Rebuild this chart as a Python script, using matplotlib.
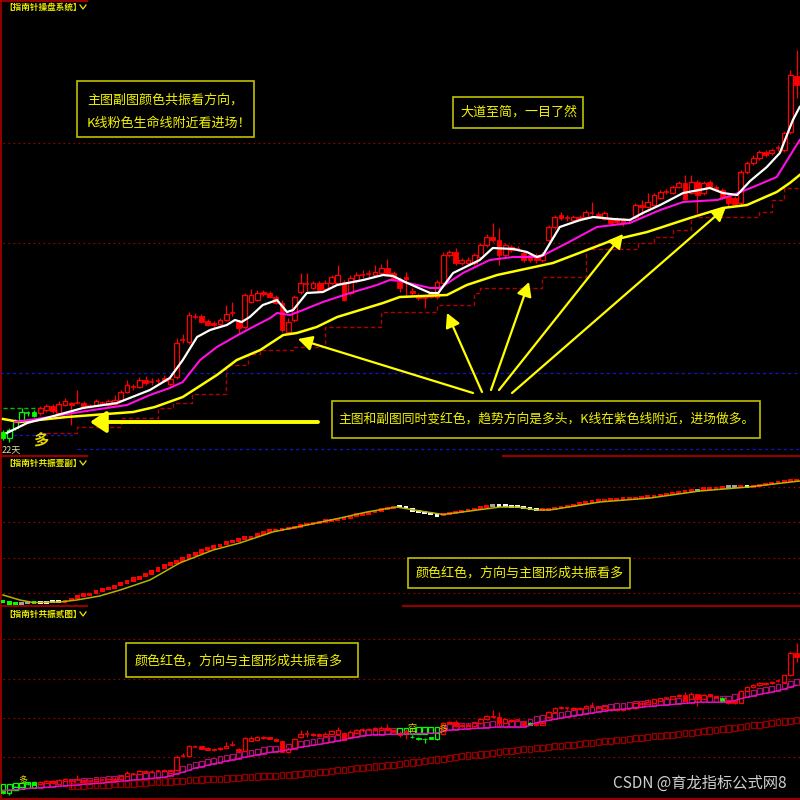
import matplotlib
matplotlib.use("Agg")
import matplotlib.pyplot as plt
from matplotlib.patches import Rectangle, FancyArrowPatch

plt.rcParams["font.family"] = ["Noto Sans CJK SC", "DejaVu Sans"]

# ---------------- data ----------------
k_open = [2.8, 2.2, 3.2, 4.0, 4.7, 4.8, 4.7, 5.0, 5.4, 4.7,
          5.5, 5.7, 5.7, 5.7, 5.4, 5.5, 5.7, 5.5, 5.6, 6.0,
          6.8, 7.3, 7.3, 8.0, 7.8, 7.9, 8.2, 7.6, 8.3, 12.0,
          11.8, 14.3, 14.4, 13.9, 13.7, 13.6, 14.0, 14.7, 13.8, 13.3,
          15.8, 16.0, 16.8, 16.7, 16.3, 15.7, 12.8, 14.0, 16.8, 17.6,
          17.2, 17.7, 17.1, 17.7, 17.7, 17.8, 16.7, 17.9, 18.5, 18.6,
          18.5, 18.7, 19.2, 18.7, 17.8, 18.3, 16.9, 16.5, 16.3, 16.7,
          16.3, 17.7, 20.5, 20.8, 19.7, 19.7, 19.7, 20.3, 21.5, 22.3,
          22.0, 20.5, 21.0, 21.1, 20.7, 20.5, 20.5, 20.0, 22.0, 23.3,
          24.5, 24.2, 24.0, 24.3, 24.3, 24.7, 24.6, 24.1, 24.1, 24.1,
          24.0, 24.0, 24.3, 25.5, 25.3, 25.5, 26.2, 26.8, 26.7, 27.3,
          27.7, 26.7, 27.8, 26.7, 27.8, 27.3, 27.0, 26.3, 26.2, 25.7,
          28.8, 29.7, 30.2, 30.8, 30.7, 31.2, 31.0, 32.8, 38.4]
k_close = [2.2, 3.0, 3.8, 4.8, 4.7, 4.4, 5.2, 5.4, 4.9, 5.6,
           5.9, 5.5, 5.7, 5.3, 5.4, 5.9, 5.7, 5.9, 6.0, 6.8,
           7.5, 7.3, 8.0, 7.7, 7.8, 7.9, 7.9, 8.1, 11.7, 12.0,
           14.5, 14.3, 13.8, 13.5, 13.5, 14.0, 14.6, 14.7, 13.2, 16.5,
           16.5, 16.7, 16.6, 16.3, 15.7, 13.0, 13.8, 16.3, 17.7, 17.6,
           17.7, 17.0, 17.7, 18.3, 18.5, 16.0, 18.2, 18.5, 18.5, 18.6,
           18.8, 19.2, 18.5, 18.1, 17.2, 18.1, 16.7, 16.2, 16.2, 16.3,
           17.8, 20.5, 20.8, 19.7, 20.0, 20.0, 20.5, 21.5, 22.3, 22.0,
           20.5, 21.5, 21.3, 21.1, 20.0, 20.0, 20.0, 20.5, 23.3, 24.3,
           24.2, 24.2, 24.3, 24.1, 24.8, 24.7, 24.4, 24.7, 23.7, 23.8,
           23.7, 24.0, 25.5, 25.3, 25.8, 26.5, 26.8, 26.8, 27.3, 27.7,
           26.1, 27.8, 26.5, 27.7, 27.3, 27.0, 26.2, 25.7, 25.6, 28.8,
           29.7, 30.2, 30.8, 30.5, 31.0, 31.2, 32.7, 38.5, 37.5]
k_high = [3.0, 3.2, 4.1, 5.2, 4.9, 5.0, 5.4, 5.6, 5.6, 5.9,
          6.2, 5.8, 7.0, 5.9, 5.6, 6.1, 5.9, 6.1, 6.5, 7.0,
          8.0, 7.6, 8.3, 8.4, 8.2, 8.2, 8.5, 8.4, 12.2, 12.6,
          14.8, 14.7, 14.6, 14.1, 13.9, 14.2, 15.5, 15.8, 14.0, 16.7,
          17.1, 17.0, 17.0, 16.9, 16.5, 16.0, 14.2, 16.5, 18.7, 18.7,
          17.9, 17.9, 18.0, 18.5, 19.5, 18.0, 18.5, 18.8, 19.0, 19.0,
          19.5, 19.6, 20.1, 18.9, 18.3, 18.8, 17.2, 16.7, 16.5, 16.9,
          18.0, 20.8, 21.0, 21.2, 20.2, 20.3, 20.7, 21.7, 22.6, 23.7,
          23.2, 21.7, 21.5, 21.4, 20.9, 20.7, 20.7, 20.8, 23.5, 24.5,
          24.8, 24.5, 24.5, 24.5, 25.0, 25.8, 24.8, 24.9, 24.3, 24.3,
          24.2, 24.2, 25.7, 26.0, 26.7, 26.7, 27.0, 27.1, 27.5, 27.9,
          28.5, 28.5, 28.0, 27.9, 28.0, 27.5, 27.2, 26.5, 26.4, 29.0,
          29.9, 30.5, 31.0, 31.0, 31.2, 31.5, 32.9, 39.0, 41.0]
k_low = [2.0, 1.8, 3.0, 3.9, 4.4, 4.3, 4.5, 4.8, 4.7, 4.6,
         5.4, 3.5, 5.6, 5.1, 5.2, 5.4, 5.5, 5.4, 5.5, 5.9,
         6.7, 7.0, 7.2, 7.5, 7.5, 7.7, 7.8, 7.4, 8.1, 11.7,
         11.6, 14.1, 13.7, 13.4, 13.3, 13.5, 13.9, 14.4, 12.7, 13.1,
         15.7, 15.9, 16.4, 16.2, 15.6, 12.8, 12.6, 13.8, 16.6, 16.9,
         17.1, 16.9, 17.0, 17.5, 17.6, 15.9, 16.5, 17.7, 18.2, 18.3,
         18.4, 18.6, 18.4, 18.0, 16.8, 16.3, 16.5, 16.0, 15.2, 16.2,
         16.1, 17.5, 20.3, 19.5, 19.5, 19.6, 19.5, 20.2, 21.3, 21.8,
         19.5, 20.3, 20.8, 20.9, 19.8, 19.8, 19.7, 19.8, 21.8, 23.1,
         24.0, 23.9, 23.8, 23.9, 24.2, 24.5, 24.2, 24.0, 23.6, 23.6,
         23.4, 23.7, 24.1, 24.5, 25.2, 25.4, 26.1, 26.6, 26.6, 27.2,
         26.0, 26.6, 24.7, 26.5, 27.2, 26.9, 26.1, 25.3, 25.4, 25.5,
         28.6, 29.5, 30.0, 30.3, 30.5, 30.9, 30.8, 32.6, 36.2]
# candle colour state in main chart: g = bearish (green), r = bullish (red)
main_color_runs = [("g", 6), ("r", 123)]

# moving-average style lines of the main chart (candle index, price)
white_x = [0.6, 1.6, 3.9, 7.6, 12.9, 18.4, 23.7, 26.9, 29.0, 31.3, 33.4, 36.1, 37.4,
           38.5, 39.8, 41.9, 44.2, 45.8, 46.8, 49.0, 51.6, 53.9, 58.1, 61.3, 62.9,
           65.2, 68.9, 70.2, 72.6, 76.9, 79.0, 82.3, 84.5, 86.1, 87.1, 89.8, 93.1,
           95.2, 98.4, 101.1, 103.2, 106.0, 109.7, 114.0, 116.1, 118.4, 120.5, 123.2,
           125.3, 127.4, 128.5]
white_v = [2.7, 3.0, 3.7, 4.3, 5.2, 5.7, 7.0, 8.2, 10.0, 12.3, 13.0, 13.5, 14.0,
           13.8, 14.3, 15.5, 16.0, 14.8, 15.0, 16.7, 16.8, 17.5, 18.0, 18.5, 18.4,
           17.7, 16.7, 16.7, 18.7, 20.0, 21.2, 21.1, 20.8, 20.3, 20.5, 23.3, 24.0,
           24.3, 24.1, 24.0, 24.7, 25.5, 26.7, 27.2, 26.7, 26.5, 27.9, 29.3,
           30.7, 34.0, 35.3]
pink_x = [1.9, 6.5, 12.4, 20.0, 23.7, 26.9, 29.0, 31.8, 34.5, 37.9, 40.3, 43.1, 44.2,
          46.3, 48.4, 51.6, 56.0, 60.3, 62.4, 64.0, 68.9, 70.5, 74.2, 78.5, 82.3,
          86.6, 91.0, 95.8, 101.1, 106.0, 109.7, 115.2, 117.7, 121.0, 124.8, 126.9, 128.5]
pink_v = [3.8, 4.2, 4.8, 5.5, 6.5, 7.2, 7.8, 10.0, 11.3, 12.5, 13.3, 14.2, 14.7,
          14.5, 15.0, 15.8, 16.7, 17.5, 18.0, 17.9, 17.2, 17.2, 18.7, 20.0, 20.3,
          20.3, 21.7, 23.3, 23.7, 25.0, 25.8, 26.0, 26.5, 27.3, 28.3, 30.4, 32.0]
yellow_x = [0, 2.7, 10.3, 21.0, 24.5, 29.0, 34.5, 37.7, 41.5, 45.2, 47.4, 50.6, 53.9,
            57.6, 61.3, 64.0, 71.6, 74.8, 79.7, 88.7, 94.2, 98.4, 103.9, 110.8, 116.1,
            120.0, 124.8, 126.9, 128.5]
yellow_v = [4.1, 3.8, 4.3, 4.8, 5.3, 6.3, 8.5, 10.0, 11.0, 12.5, 12.7, 13.3, 14.3,
            15.0, 15.7, 16.3, 16.5, 17.5, 18.5, 19.7, 21.0, 22.0, 22.8, 24.2, 25.2,
            25.5, 26.8, 27.7, 28.5]
# stepped support line (start index of each level, level)
step_start = [7, 12, 19, 25, 27.5, 30.5, 36, 39.5, 41.5, 47, 52, 61, 70, 76, 77,
              87, 94, 102.5, 105, 108, 111, 122, 124, 126, 128.5]
step_level = [2.7, 3.3, 4.2, 5.2, 5.7, 6.6, 9.5, 10.6, 11.0, 11.3, 13.3, 14.8, 15.5,
              16.7, 17.2, 18.3, 21.1, 21.7, 22.3, 23.0, 24.3, 24.8, 26.0, 27.2, 27.2]
blue_level_hi = 8.7
blue_level_lo = [2.5, 1.1]
green_level = 5.2

# sub chart 1 (共振壹副)
sub1_val = [5, 3, 2.5, 3, 4, 4, 4, 4, 4.5, 5,
            5, 6.5, 9, 11, 12, 14, 16, 17.5, 19.5, 22,
            24, 26.5, 28.5, 31, 33.5, 36.5, 39.5, 42, 44, 47,
            49.5, 52, 55, 57, 59, 60.5, 63, 64.5, 66.5, 68,
            69, 71, 73, 75, 76, 77, 78, 78.5, 80, 81.5,
            82.5, 83.5, 85, 86, 87, 88, 89, 91, 92, 93,
            94.5, 96, 97, 98.5, 99, 98, 96, 94.5, 93.5, 92.5,
            91, 92, 92.5, 93.5, 94.5, 95.5, 96.5, 98, 99.5, 100,
            100, 100, 99, 99, 98, 97, 96, 96, 96, 97,
            98.5, 99.5, 100.5, 102, 103.5, 104, 105, 105.5, 106, 106.5,
            107, 107, 107, 108, 109, 109.5, 110.5, 111.5, 112.5, 113,
            114, 115, 115.5, 117, 117, 117.5, 118.5, 119, 119, 119,
            119, 119.5, 120.5, 121.5, 122, 123, 124, 125, 125.5]
sub1_color_runs = [("g", 3), ("s", 2), ("g", 1), ("w", 3), ("y", 1), ("r", 54),
                   ("w", 7), ("r", 8), ("s", 1), ("w", 7), ("r", 25), ("s", 1),
                   ("r", 4), ("s", 2), ("r", 1), ("y", 1), ("r", 8)]
sub1_sig_x = [0, 2.7, 4.8, 9.2, 11.9, 15.6, 18.9, 23.7, 28.5, 33.9, 38.2, 43.5, 49.0,
              54.4, 58.7, 63.5, 67.3, 71.0, 75.3, 80.2, 82.9, 86.1, 88.2, 96.3, 104.4,
              112.4, 120.2, 128.5]
sub1_sig_v = [11, 6, 3.5, 4, 6, 10, 16, 26, 43, 56, 63, 74, 81, 88, 94, 99, 95, 91.5,
              95, 99, 99, 96, 96, 104, 108, 115, 119, 125]

# sub chart 2 (共振贰图): same K lines, box line and lower box line
sub2_box = [3.0, 3.1, 3.2, 3.3, 3.5, 3.6, 3.7, 3.8, 3.9, 4.1,
            4.2, 4.3, 4.4, 4.6, 4.7, 4.8, 4.9, 5.1, 5.2, 5.4,
            5.5, 5.7, 5.8, 6.0, 6.1, 6.3, 6.4, 6.8, 7.3, 7.7,
            8.2, 8.8, 9.1, 9.5, 9.9, 10.2, 10.6, 10.9, 11.2, 11.6,
            11.9, 12.2, 12.5, 12.8, 13.0, 13.2, 13.5, 13.8, 14.2, 14.4,
            14.7, 14.9, 15.2, 15.5, 15.8, 16.1, 16.5, 16.8, 17.1, 17.3,
            17.4, 17.4, 17.5, 17.5, 17.6, 17.6, 17.6, 17.7, 17.7, 17.8,
            17.8, 18.4, 18.6, 18.7, 18.8, 18.9, 19.0, 19.1, 19.2, 19.3,
            19.4, 19.4, 19.4, 19.4, 19.4, 19.8, 20.5, 20.8, 21.1, 21.4,
            21.7, 22.0, 22.3, 22.5, 22.8, 23.0, 23.3, 23.5, 23.7, 23.9,
            24.0, 24.2, 24.4, 24.5, 24.7, 24.8, 25.0, 25.1, 25.2, 25.4,
            25.5, 25.6, 25.8, 25.8, 25.8, 25.8, 25.8, 25.8, 26.2, 26.7,
            27.1, 27.4, 27.8, 28.1, 28.4, 28.8, 29.2, 29.7, 30.2]
sub2_box_color_runs = [("g", 6), ("m", 58), ("g", 7), ("m", 58)]
sub2_k_color_runs = [("g", 6), ("r", 60), ("g", 5), ("r", 14), ("g", 1), ("r", 30),
                     ("g", 1), ("r", 12)]
sub2_low_start = 11
sub2_low = [4.1, 4.2, 4.2, 4.3, 4.4, 4.5, 4.5, 4.6, 4.7, 4.8,
            4.8, 4.9, 5.0, 5.1, 5.2, 5.3, 5.3, 5.4, 5.5, 5.6,
            5.7, 5.8, 5.9, 5.9, 6.0, 6.1, 6.2, 6.3, 6.4, 6.5,
            6.6, 6.7, 6.7, 6.8, 6.9, 7.0, 7.1, 7.2, 7.4, 7.5,
            7.7, 7.8, 8.0, 8.2, 8.3, 8.5, 8.7, 8.8, 9.0, 9.2,
            9.3, 9.5, 9.6, 9.8, 10.0, 10.2, 10.4, 10.6, 10.8, 11.0,
            11.2, 11.4, 11.6, 11.8, 12.0, 12.1, 12.3, 12.5, 12.7, 12.9,
            13.1, 13.2, 13.4, 13.6, 13.7, 13.9, 14.0, 14.2, 14.4, 14.5,
            14.7, 14.8, 15.0, 15.2, 15.3, 15.5, 15.7, 15.8, 16.0, 16.1,
            16.3, 16.5, 16.6, 16.8, 17.0, 17.1, 17.3, 17.4, 17.6, 17.8,
            17.9, 18.1, 18.3, 18.5, 18.6, 18.8, 19.0, 19.2, 19.4, 19.6,
            19.8, 20.0, 20.2, 20.4, 20.6, 20.8, 21.0, 21.2]

titles = ["【指南针操盘系统】", "【指南针共振壹副】", "【指南针共振贰图】"]
note_main1 = ["主图副图颜色共振看方向，", "K线粉色生命线附近看进场！"]
note_main2 = "大道至简，一目了然"
note_main3 = "主图和副图同时变红色，趋势方向是多头，K线在紫色线附近，进场做多。"
note_sub = "颜色红色，方向与主图形成共振看多"
watermark = "CSDN @育龙指标公式网8"


def expand(runs):
    out = []
    for c, n in runs:
        out += [c] * n
    return out


PAL = {"r": "#ff0000", "g": "#00ff00", "w": "#ffffff", "s": "#a0a0a0",
       "y": "#ffffb0", "m": "#a8106a"}

N = len(k_close)
XL = (-0.484, 128.55)

fig = plt.figure(figsize=(8, 8), dpi=100, facecolor="black")

# background layer: grid, borders
bg = fig.add_axes([0, 0, 1, 1])
bg.set_xlim(0, 800); bg.set_ylim(800, 0); bg.axis("off")
for yy in [143, 243, 487, 522, 558, 593, 639, 679, 718, 757]:
    bg.plot([3, 800], [yy, yy], color="#a00000", lw=0.8, ls=(0, (1.5, 3)))
for xs, yy in [([0, 87], 1), ([0, 87], 456), ([503, 800], 456),
               ([0, 87], 606), ([403, 800], 606), ([0, 800], 799)]:
    bg.plot(xs, [yy, yy], color="#900000", lw=1.6)
bg.plot([1.2, 1.2], [0, 800], color="#900000", lw=1.4)


def panel(top, bottom):
    ax = fig.add_axes([0, 1 - bottom / 800, 1, (bottom - top) / 800])
    ax.set_xlim(*XL)
    ax.axis("off")
    return ax


def candles(ax, cols, w=0.76):
    for i in range(N):
        o, c, h, l = k_open[i], k_close[i], k_high[i], k_low[i]
        col = PAL[cols[i]]
        top, bot = max(o, c), min(o, c)
        ax.vlines(i, top, h, color=col, lw=0.9, zorder=3)
        ax.vlines(i, l, bot, color=col, lw=0.9, zorder=3)
        if c > o:
            ax.add_patch(Rectangle((i - w / 2, bot), w, top - bot, facecolor="black",
                                   edgecolor=col, lw=0.9, zorder=3))
        elif c < o:
            ax.add_patch(Rectangle((i - w / 2, bot), w, top - bot, facecolor=col,
                                   edgecolor=col, lw=0.6, zorder=3))
        else:
            ax.hlines(c, i - w / 2, i + w / 2, color=col, lw=1.1, zorder=3)


# ---- main chart ----
ax1 = panel(0, 456)
ax1.set_ylim(0.4, 46.0)
ax1.hlines(blue_level_hi, XL[0], XL[1], colors="#1414c8", lw=0.9, linestyles=(0, (2.5, 2.5)))
ax1.hlines(blue_level_lo[0], 1.6, 11.6, colors="#1414c8", lw=0.9, linestyles=(0, (2.5, 2.5)))
ax1.hlines(blue_level_lo[1], 12, XL[1], colors="#1414c8", lw=0.9, linestyles=(0, (2.5, 2.5)))
ax1.hlines(green_level, 0, 6, colors="#00c000", lw=1.0, linestyles=(0, (3, 2)))
ax1.step(step_start, step_level, where="post", color="#b40000", lw=1.0, ls=(0, (3, 2)))
candles(ax1, expand(main_color_runs))
ax1.plot(yellow_x, yellow_v, color="#ffff00", lw=1.8, zorder=4)
ax1.plot(pink_x, pink_v, color="#ff10e0", lw=1.5, zorder=5)
ax1.plot(white_x, white_v, color="#ffffff", lw=1.6, zorder=6)

# ---- sub chart 1 ----
ax2 = panel(456, 606)
ax2.set_ylim(0, 150)
c2 = expand(sub1_color_runs)
for i in range(N):
    d = abs(sub1_val[i] - sub1_val[i - 1]) if i > 0 else 0
    hh = max(3.0, d + 2.0)
    ax2.add_patch(Rectangle((i - 0.4, sub1_val[i] - hh / 2), 0.8, hh,
                            facecolor=PAL[c2[i]], edgecolor="none", zorder=3))
ax2.plot(sub1_sig_x, sub1_sig_v, color="#b4b400", lw=1.1, zorder=4)

# ---- sub chart 2 ----
ax3 = panel(606, 800)
ax3.set_ylim(0.52, 50.65)
cb = expand(sub2_box_color_runs)
for i in range(N):
    ax3.add_patch(Rectangle((i - 0.4, sub2_box[i]), 0.8, 1.6, facecolor="none",
                            edgecolor=PAL[cb[i]], lw=0.9, zorder=2))
for j, v in enumerate(sub2_low):
    i = sub2_low_start + j
    ax3.add_patch(Rectangle((i - 0.4, v - 0.8), 0.8, 1.6, facecolor="none",
                            edgecolor="#8c0000", lw=1.0, zorder=2))
candles(ax3, expand(sub2_k_color_runs), w=0.7)
ax3.plot(range(N), sub2_box, color="#e010c0", lw=1.0, zorder=4)

# ---- overlay: titles, notes, arrows ----
ov = fig.add_axes([0, 0, 1, 1])
ov.set_xlim(0, 800); ov.set_ylim(800, 0); ov.axis("off")
TY = "#e8e800"
for t, yy in zip(titles, [7, 463, 614]):
    ov.text(4, yy, t, color=TY, fontsize=6.2, fontweight="bold", va="center", ha="left")
    ov.plot([80, 83, 86], [yy - 2, yy + 2, yy - 2], color=TY, lw=0.9)

BOX = "#c0c000"
TXT = "#f2f200"


def note(x0, y0, x1, y1, lines, tx, ys, fs=9.4):
    ov.add_patch(Rectangle((x0, y0), x1 - x0, y1 - y0, fill=False, edgecolor=BOX, lw=1.2))
    for s, yy in zip(lines, ys):
        ov.text(tx, yy, s, color=TXT, fontsize=fs, va="center", ha="left")


note(77, 81, 254, 137, note_main1, 87, [100, 123])
note(453, 97, 583, 128, [note_main2], 460, [112])
note(332, 401, 760, 438, [note_main3], 338, [419.5], fs=9.2)
note(408, 558, 630, 588, [note_sub], 416, [573])
note(126, 643, 358, 677, [note_sub], 135, [661])

arrows = [((473, 393), (298, 339)), ((482, 392), (447, 313)), ((491, 390), (529, 282)),
          ((499, 390), (623, 234)), ((512, 393), (726, 207))]
for a, b in arrows:
    ov.add_patch(FancyArrowPatch(a, b, arrowstyle="-|>,head_length=0.6,head_width=0.32",
                                 mutation_scale=14, color="#ffff00", lw=1.6,
                                 shrinkA=0, shrinkB=0))
ov.add_patch(FancyArrowPatch((318, 422), (90, 422),
                             arrowstyle="-|>,head_length=0.6,head_width=0.4",
                             mutation_scale=16, color="#ffff00", lw=2.8,
                             shrinkA=0, shrinkB=0))

ov.text(33, 441, "多", color="#e8d800", fontsize=11, fontweight="bold", va="center")
ov.text(2, 449.5, "22天", color="#e0e0a0", fontsize=6.5, va="center")
ov.text(18, 781, "多", color="#e8d800", fontsize=6.5, va="center")
ov.text(407, 729, "空", color="#d8d800", fontsize=6.5, va="center")
ov.text(438, 730, "多", color="#e8b000", fontsize=6.5, va="center")
ov.text(613, 783, watermark, color="#d0d0d0", fontsize=11, va="center", ha="left")

fig.savefig("out.png", dpi=100, facecolor="black")
